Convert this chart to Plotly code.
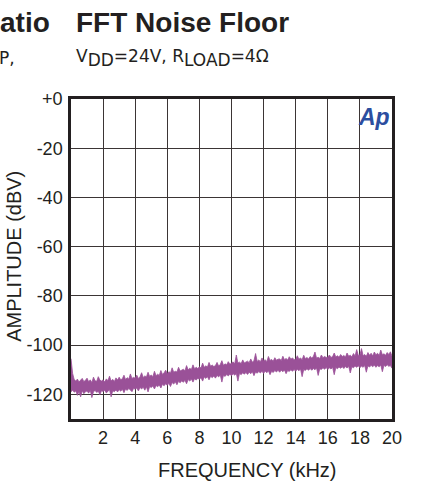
import plotly.graph_objects as go

freq_khz = [
    0.0, 0.1, 0.2, 0.3, 0.4, 0.5, 0.6, 0.7, 0.8, 0.9,
    1.0, 1.1, 1.2, 1.3, 1.4, 1.5, 1.6, 1.7, 1.8, 1.9,
    2.0, 2.1, 2.2, 2.3, 2.4, 2.5, 2.6, 2.7, 2.8, 2.9,
    3.0, 3.1, 3.2, 3.3, 3.4, 3.5, 3.6, 3.7, 3.8, 3.9,
    4.0, 4.1, 4.2, 4.3, 4.4, 4.5, 4.6, 4.7, 4.8, 4.9,
    5.0, 5.1, 5.2, 5.3, 5.4, 5.5, 5.6, 5.7, 5.8, 5.9,
    6.0, 6.1, 6.2, 6.3, 6.4, 6.5, 6.6, 6.7, 6.8, 6.9,
    7.0, 7.1, 7.2, 7.3, 7.4, 7.5, 7.6, 7.7, 7.8, 7.9,
    8.0, 8.1, 8.2, 8.3, 8.4, 8.5, 8.6, 8.7, 8.8, 8.9,
    9.0, 9.1, 9.2, 9.3, 9.4, 9.5, 9.6, 9.7, 9.8, 9.9,
    10.0, 10.1, 10.2, 10.3, 10.4, 10.5, 10.6, 10.7, 10.8, 10.9,
    11.0, 11.1, 11.2, 11.3, 11.4, 11.5, 11.6, 11.7, 11.8, 11.9,
    12.0, 12.1, 12.2, 12.3, 12.4, 12.5, 12.6, 12.7, 12.8, 12.9,
    13.0, 13.1, 13.2, 13.3, 13.4, 13.5, 13.6, 13.7, 13.8, 13.9,
    14.0, 14.1, 14.2, 14.3, 14.4, 14.5, 14.6, 14.7, 14.8, 14.9,
    15.0, 15.1, 15.2, 15.3, 15.4, 15.5, 15.6, 15.7, 15.8, 15.9,
    16.0, 16.1, 16.2, 16.3, 16.4, 16.5, 16.6, 16.7, 16.8, 16.9,
    17.0, 17.1, 17.2, 17.3, 17.4, 17.5, 17.6, 17.7, 17.8, 17.9,
    18.0, 18.1, 18.2, 18.3, 18.4, 18.5, 18.6, 18.7, 18.8, 18.9,
    19.0, 19.1, 19.2, 19.3, 19.4, 19.5, 19.6, 19.7, 19.8, 19.9,
    20.0]

noise_upper_dbv = [
    -105.5, -111.5, -114.0, -114.6, -113.8, -115.0, -114.2, -113.5, -114.8, -114.3,
    -113.4, -114.9, -114.1, -115.2, -113.0, -114.5, -114.7, -112.8, -114.2, -114.6,
    -114.1, -115.0, -113.7, -114.4, -112.6, -114.6, -113.9, -114.8, -113.3, -114.2,
    -113.0, -114.1, -113.6, -112.2, -114.0, -113.2, -113.8, -111.7, -113.5, -113.1,
    -113.4, -112.2, -113.6, -112.8, -111.2, -113.1, -112.5, -112.9, -111.0, -112.7,
    -112.1, -112.8, -110.6, -112.4, -111.8, -112.3, -110.3, -111.9, -111.2, -110.2,
    -111.6, -110.8, -111.3, -109.2, -111.0, -110.6, -110.9, -109.0, -110.5, -110.1,
    -109.8, -110.4, -108.3, -110.0, -109.4, -109.9, -108.0, -109.6, -109.0, -109.5,
    -108.8, -109.3, -107.3, -109.0, -108.4, -108.9, -107.0, -108.6, -108.1, -108.7,
    -108.3, -107.0, -108.5, -107.9, -106.3, -108.2, -107.6, -108.0, -106.7, -107.8,
    -107.4, -106.8, -107.6, -104.0, -107.3, -106.9, -107.5, -106.0, -107.2, -106.7,
    -106.5, -107.1, -105.6, -106.9, -106.3, -103.4, -106.6, -106.0, -106.8, -105.2,
    -106.4, -105.9, -106.7, -104.6, -106.2, -105.8, -106.5, -105.1, -106.1, -105.7,
    -105.6, -106.2, -104.5, -105.9, -105.4, -106.0, -104.7, -105.7, -105.2, -105.9,
    -105.8, -104.3, -105.7, -105.2, -105.9, -104.1, -105.5, -105.0, -105.6, -104.6,
    -105.2, -104.6, -102.8, -105.3, -104.9, -105.4, -104.0, -105.1, -104.6, -105.0,
    -104.9, -104.0, -105.0, -104.6, -103.2, -104.8, -104.3, -104.9, -103.8, -104.6,
    -104.2, -104.8, -103.2, -104.5, -104.1, -104.7, -103.4, -104.4, -101.8, -104.2,
    -104.0, -101.4, -104.3, -103.8, -104.5, -103.0, -104.1, -103.3, -104.4, -102.8,
    -103.9, -103.3, -104.2, -102.0, -103.9, -103.5, -104.1, -103.0, -103.8, -102.7,
    -104.5]

noise_lower_dbv = [
    -119.0, -118.2, -119.1, -118.6, -120.4, -118.8, -121.0, -118.5, -119.7, -118.9,
    -118.6, -119.5, -118.3, -121.3, -118.9, -118.4, -119.2, -118.7, -120.1, -118.5,
    -118.8, -118.3, -119.4, -118.6, -118.1, -121.0, -118.5, -118.9, -118.2, -119.0,
    -118.1, -118.7, -117.9, -119.3, -117.8, -118.4, -117.6, -118.2, -118.9, -117.5,
    -117.9, -117.4, -118.6, -117.2, -117.8, -117.1, -118.3, -116.9, -119.0, -116.8,
    -117.2, -116.6, -117.8, -116.4, -116.9, -116.2, -117.4, -115.9, -116.5, -115.7,
    -116.3, -115.5, -116.8, -115.2, -115.8, -114.9, -116.1, -114.7, -115.3, -114.5,
    -115.1, -114.3, -115.7, -114.0, -114.6, -113.8, -115.0, -113.6, -114.2, -113.4,
    -113.9, -113.2, -114.6, -112.9, -113.5, -112.8, -114.1, -112.6, -113.2, -112.5,
    -113.4, -112.3, -112.9, -112.1, -115.0, -112.2, -112.7, -111.9, -112.5, -111.8,
    -112.4, -111.6, -112.2, -111.5, -114.6, -111.4, -112.0, -111.2, -111.8, -111.1,
    -111.9, -111.0, -111.6, -110.8, -112.4, -110.9, -111.4, -110.7, -111.3, -110.6,
    -111.5, -110.5, -111.2, -110.4, -112.0, -110.6, -111.1, -110.3, -110.9, -110.2,
    -111.0, -110.2, -110.8, -110.1, -111.6, -110.3, -110.7, -110.0, -110.6, -109.9,
    -110.6, -109.8, -110.4, -109.7, -112.8, -109.9, -110.3, -109.6, -110.2, -109.5,
    -110.2, -109.5, -110.0, -109.3, -112.3, -109.6, -109.9, -109.2, -109.8, -109.1,
    -109.9, -109.2, -109.7, -109.0, -112.0, -109.1, -109.6, -108.9, -109.4, -108.8,
    -109.5, -108.7, -109.3, -108.6, -111.3, -108.8, -109.2, -108.5, -109.0, -108.4,
    -109.2, -108.5, -109.0, -108.3, -111.0, -108.4, -108.9, -108.2, -108.8, -108.1,
    -109.0, -108.3, -108.8, -108.1, -110.8, -108.2, -108.7, -108.0, -108.6, -108.3,
    -109.4]

x_tick_vals = [2, 4, 6, 8, 10, 12, 14, 16, 18, 20]
x_tick_text = ["2", "4", "6", "8", "10", "12", "14", "16", "18", "20"]
y_tick_vals = [0, -20, -40, -60, -80, -100, -120]
y_tick_text = ["+0", "-20", "-40", "-60", "-80", "-100", "-120"]

PURPLE = "#9a5198"
INK = "#231f20"
FONT = "Liberation Sans, Arial, sans-serif"
WIDE = "DejaVu Sans, Verdana, sans-serif"

fig = go.Figure()
fig.add_trace(go.Scatter(x=freq_khz, y=noise_lower_dbv, mode="lines",
                         line=dict(color=PURPLE, width=0.8), showlegend=False,
                         hoverinfo="skip"))
fig.add_trace(go.Scatter(x=freq_khz, y=noise_upper_dbv, mode="lines",
                         line=dict(color=PURPLE, width=0.8), fill="tonexty",
                         fillcolor=PURPLE, showlegend=False))

FW, FH = 425, 487
L, R, T, B = 71.3, 391.8, 98.5, 419.0
W, H = R - L, B - T

def px(xs):
    return (xs - L) / W

def py(ys):
    return (B - ys) / H

ann = []
ann.append(dict(text="<b>FFT Noise Floor</b>", x=px(74), y=py(22), xref="paper", yref="paper",
                xanchor="left", yanchor="middle", showarrow=False,
                font=dict(family=FONT, size=28, color=INK)))
ann.append(dict(text="<b>atio</b>", x=px(-2), y=py(22), xref="paper", yref="paper",
                xanchor="left", yanchor="middle", showarrow=False,
                font=dict(family=FONT, size=28, color=INK)))
sub = "<sub><span style='font-size:17px'>{}</span></sub>"
ann.append(dict(text="V" + sub.format("DD") + "=24V, R" + sub.format("LOAD") + "=4Ω",
                x=px(74), y=py(57),
                xref="paper", yref="paper", xanchor="left", yanchor="middle", showarrow=False,
                font=dict(family=WIDE, size=17, color=INK)))
ann.append(dict(text="P,", x=px(-3), y=py(57), xref="paper", yref="paper",
                xanchor="left", yanchor="middle", showarrow=False,
                font=dict(family=WIDE, size=17, color=INK)))
ann.append(dict(text="AMPLITUDE (dBV)", x=px(14.5), y=py(256.5), xref="paper", yref="paper",
                xanchor="center", yanchor="middle", textangle=-90, showarrow=False,
                font=dict(family=FONT, size=20, color=INK)))
ann.append(dict(text="FREQUENCY (kHz)", x=px(248), y=py(470), xref="paper", yref="paper",
                xanchor="center", yanchor="middle", showarrow=False,
                font=dict(family=FONT, size=20, color=INK)))
ann.append(dict(text="<b><i>Ap</i></b>", x=1.0, y=py(116.5), xref="paper", yref="paper",
                xanchor="right", yanchor="middle", showarrow=False,
                font=dict(family=FONT, size=23, color="#2c4e9f")))

fig.update_layout(
    width=FW, height=FH,
    margin=dict(l=L, r=FW - R, t=T, b=FH - B, pad=0),
    paper_bgcolor="white", plot_bgcolor="white",
    annotations=ann,
    font=dict(family=FONT, size=18, color=INK),
)
fig.update_xaxes(range=[0, 20], tickvals=x_tick_vals, ticktext=x_tick_text,
                 showgrid=True, gridcolor="#3b3535", gridwidth=1.3,
                 showline=True, linecolor=INK, linewidth=2.5, mirror=True,
                 ticks="", ticklabelstandoff=1, zeroline=False,
                 tickfont=dict(family=FONT, size=18, color=INK))
fig.update_yaxes(range=[-130, 0], tickvals=y_tick_vals, ticktext=y_tick_text,
                 showgrid=True, gridcolor="#3b3535", gridwidth=1.3,
                 showline=True, linecolor=INK, linewidth=2.5, mirror=True,
                 ticks="", ticklabelstandoff=2, zeroline=False,
                 tickfont=dict(family=FONT, size=18, color=INK))

# the page's default 8px body margin would push the figure off its 425x487 frame
fig.write_html("out.html", config={"displayModeBar": False},
               post_script="document.body.style.margin='0px';")
